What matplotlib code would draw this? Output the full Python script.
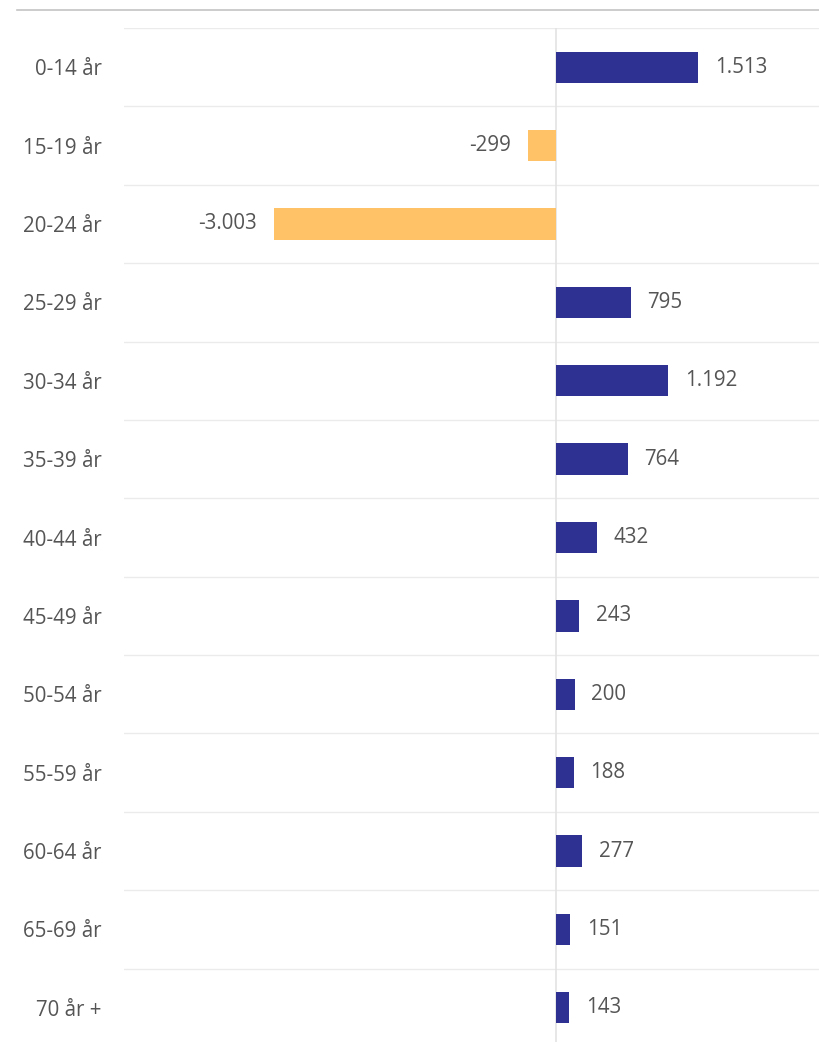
import matplotlib
matplotlib.use("Agg")
import matplotlib.pyplot as plt
from matplotlib.lines import Line2D

categories = ["0-14 år", "15-19 år", "20-24 år", "25-29 år", "30-34 år", "35-39 år",
              "40-44 år", "45-49 år", "50-54 år", "55-59 år", "60-64 år", "65-69 år", "70 år +"]
values = [1513, -299, -3003, 795, 1192, 764, 432, 243, 200, 188, 277, 151, 143]
labels = ["1.513", "-299", "-3.003", "795", "1.192", "764", "432", "243", "200", "188", "277", "151", "143"]

W, H = 819, 1042
fig = plt.figure(figsize=(W / 100, H / 100), dpi=100)
plt.rcParams['font.family'] = ['Open Sans', 'DejaVu Sans']

left, right = 124, 819
top, bottom = 28, 1047
ax = fig.add_axes([left / W, 1 - bottom / H, (right - left) / W, (bottom - top) / H])

pos_col = "#2e3192"
neg_col = "#ffc266"
y = list(range(len(categories)))
colors = [pos_col if v >= 0 else neg_col for v in values]
ax.barh(y, values, height=0.4, color=colors, zorder=3)

ax.set_xlim(-4600, 2800)
ax.set_ylim(len(categories) - 0.5, -0.5)

for i in range(len(categories)):
    ax.axhline(i - 0.5, color="#ebebeb", lw=1, zorder=1)
ax.axvline(0, color="#e3e3e3", lw=1.2, zorder=2)

fs = 14.8
for i, (v, lab) in enumerate(zip(values, labels)):
    if v >= 0:
        ax.annotate(lab, (v, i), xytext=(12, 0), textcoords="offset points",
                    ha="left", va="center", fontsize=fs, color="#555555")
    else:
        ax.annotate(lab, (v, i), xytext=(-12, 0), textcoords="offset points",
                    ha="right", va="center", fontsize=fs, color="#555555")

ax.set_yticks(y)
ax.set_yticklabels(categories, fontsize=fs, color="#555555")
ax.tick_params(axis="y", length=0, pad=16)
ax.set_xticks([])
for s in ax.spines.values():
    s.set_visible(False)

fig.add_artist(Line2D([17 / W, 1.0], [1 - 10 / H, 1 - 10 / H], color="#c4c4c4", lw=1.2))

fig.savefig("out.png", dpi=100)
